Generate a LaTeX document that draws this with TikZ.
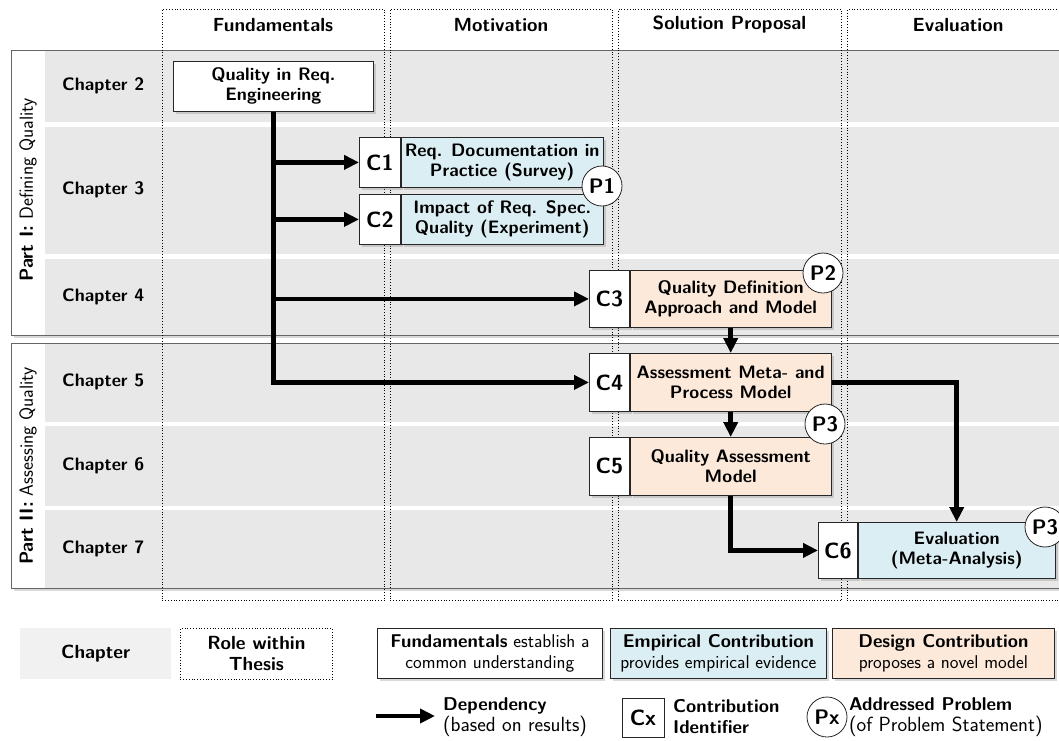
\documentclass[tikz,border=0pt]{standalone}
\usetikzlibrary{shadows,arrows.meta}
\definecolor{rowgray}{RGB}{232,232,232}
\definecolor{leggray}{RGB}{241,241,241}
\definecolor{empblue}{RGB}{219,238,244}
\definecolor{desorange}{RGB}{252,233,218}
\newcommand{\legnote}[1]{{\fontsize{20.5}{22}\selectfont #1}}
\begin{document}
\begin{tikzpicture}[x=1pt,y=-1pt,
  base/.style={font=\sffamily\bfseries\fontsize{18}{20}\selectfont, inner sep=0pt, align=center},
  headtext/.style={base, font=\sffamily\bfseries\fontsize{19}{21}\selectfont},
  legtext/.style={font=\sffamily\fontsize{18.5}{21}\selectfont, inner sep=0pt},
  parttext/.style={rotate=90, font=\sffamily\fontsize{19}{21}\selectfont, inner sep=0pt},
  partframe/.style={draw=black!60, line width=0.9pt},
  rolecol/.style={draw=black, dotted, line width=0.8pt},
  shade/.style={drop shadow={shadow xshift=2.5pt, shadow yshift=-2.5pt, opacity=0.3}},
  fundbox/.style={base, draw=black!85, line width=0.8pt, fill=white, shade, anchor=north west},
  idbox/.style={fundbox, font=\sffamily\bfseries\fontsize{22}{24}\selectfont},
  probcircle/.style={base, circle, draw=black!85, fill=white, line width=0.8pt,
    minimum size=40pt, font=\sffamily\bfseries\fontsize{21}{22}\selectfont},
  dep/.style={line width=4.5pt, -{Triangle[length=15pt,width=14pt]}},
]
\useasboundingbox (0,0) rectangle (1059,740);

% part frames with their shadows
\path[fill=white, shade] (11,50) rectangle (1075,335);
\path[fill=white, shade] (11,343) rectangle (1075,588);

% chapter rows
\fill[rowgray] (45,50) rectangle (1075,122);
\fill[rowgray] (45,127) rectangle (1075,254);
\fill[rowgray] (45,259) rectangle (1075,335);
\fill[rowgray] (45,343) rectangle (1075,422);
\fill[rowgray] (45,426) rectangle (1075,506);
\fill[rowgray] (45,510) rectangle (1075,588);

\draw[partframe] (11,50) rectangle (1075,335);
\draw[partframe] (11,343) rectangle (1075,588);

\node[parttext] (part1) at (28,190) {\textbf{Part I:} Defining Quality};
\node[parttext] (part2) at (28,466) {\textbf{Part II:} Assessing Quality};

\node[base, anchor=west] (ch2) at (62,86) {Chapter 2};
\node[base, anchor=west] (ch3) at (62,190) {Chapter 3};
\node[base, anchor=west] (ch4) at (62,297) {Chapter 4};
\node[base, anchor=west] (ch5) at (62,382) {Chapter 5};
\node[base, anchor=west] (ch6) at (62,466) {Chapter 6};
\node[base, anchor=west] (ch7) at (62,549) {Chapter 7};

% role columns
\node[rolecol, anchor=north west, minimum width=222pt, minimum height=591pt, inner sep=0pt] (colfund) at (162,9) {};
\node[rolecol, anchor=north west, minimum width=222pt, minimum height=591pt, inner sep=0pt] (colmot) at (390,9) {};
\node[rolecol, anchor=north west, minimum width=223pt, minimum height=591pt, inner sep=0pt] (colsol) at (618,9) {};
\node[rolecol, anchor=north west, minimum width=225pt, minimum height=591pt, inner sep=0pt] (coleval) at (847,9) {};

\node[headtext] (hfund) at (273,25) {Fundamentals};
\node[headtext] (hmot) at (501,25) {Motivation};
\node[headtext] (hsol) at (729.5,25) {Solution Proposal};
\node[headtext] (heval) at (958,25) {Evaluation};

% contributions
\node[fundbox, minimum width=200pt, minimum height=50pt] (q) at (173,61) {Quality in Req.\\Engineering};

\node[idbox, minimum width=41pt, minimum height=50pt] (c1id) at (359,137) {C1};
\node[fundbox, fill=empblue, minimum width=202pt, minimum height=50pt] (c1) at (c1id.north east) {Req. Documentation in\\Practice (Survey)};

\node[idbox, minimum width=41pt, minimum height=50pt] (c2id) at (359,194) {C2};
\node[fundbox, fill=empblue, minimum width=202pt, minimum height=50pt] (c2) at (c2id.north east) {Impact of Req. Spec.\\Quality (Experiment)};

\node[idbox, minimum width=40pt, minimum height=57pt] (c3id) at (589,270) {C3};
\node[fundbox, fill=desorange, minimum width=201pt, minimum height=57pt] (c3) at (c3id.north east) {Quality Definition\\Approach and Model};

\node[idbox, minimum width=40pt, minimum height=58pt] (c4id) at (589,353) {C4};
\node[fundbox, fill=desorange, minimum width=201pt, minimum height=58pt] (c4) at (c4id.north east) {Assessment Meta- and\\Process Model};

\node[idbox, minimum width=40pt, minimum height=58pt] (c5id) at (589,437) {C5};
\node[fundbox, fill=desorange, minimum width=201pt, minimum height=58pt] (c5) at (c5id.north east) {Quality Assessment\\Model};

\node[idbox, minimum width=39pt, minimum height=56pt] (c6id) at (818,522) {C6};
\node[fundbox, fill=empblue, minimum width=197pt, minimum height=56pt] (c6) at (c6id.north east) {Evaluation\\(Meta-Analysis)};

% dependencies
\draw[dep] (q.south) |- (c4id.west);
\draw[dep] (q.south |- c1id.west) -- (c1id.west);
\draw[dep] (q.south |- c2id.west) -- (c2id.west);
\draw[dep] (q.south |- c3id.west) -- (c3id.west);
\draw[dep] (c3.south) -- (c4.north);
\draw[dep] (c4.south) -- (c5.north);
\draw[dep] (c4.east) -| (c6.north);
\draw[dep] (c5.south) |- (c6id.west);

% addressed problems
\node[probcircle] (p1) at (602,186) {P1};
\node[probcircle] (p2) at (823,273) {P2};
\node[probcircle] (p3a) at (825,424) {P3};
\node[probcircle] (p3b) at (1045,527) {P3};

% legend
\node[headtext, fill=leggray, anchor=north west, minimum width=151pt, minimum height=51pt] (lchap) at (20,628) {Chapter};
\node[headtext, rolecol, anchor=north west, minimum width=152pt, minimum height=51pt] (lrole) at (180,628) {Role within\\Thesis};
\node[fundbox, legtext, align=center, minimum width=225pt, minimum height=50pt] (lfund) at (377,628) {\textbf{Fundamentals} establish a\\common understanding};
\node[fundbox, legtext, align=center, fill=empblue, minimum width=216pt, minimum height=50pt] (lemp) at (610,628) {\textbf{Empirical Contribution}\\provides empirical evidence};
\node[fundbox, legtext, align=center, fill=desorange, minimum width=222pt, minimum height=50pt] (ldes) at (832,628) {\textbf{Design Contribution}\\proposes a novel model};

\coordinate (la0) at (376,716);
\coordinate (la1) at (435,716);
\draw[dep] (la0) -- (la1);
\node[legtext, anchor=west, align=left] (ldep) at (443,717) {\textbf{Dependency}\\\legnote{(based on results)}};

\node[base, draw=black!85, line width=0.8pt, fill=white, minimum width=42pt, minimum height=39pt, font=\sffamily\bfseries\fontsize{22}{24}\selectfont] (lcx) at (643,718) {Cx};
\node[legtext, anchor=west, align=left] (lcxt) at (673,717) {\textbf{Contribution}\\\textbf{Identifier}};

\node[probcircle] (lpx) at (827,717) {Px};
\node[legtext, anchor=west, align=left] (lpxt) at (849,717) {\textbf{Addressed Problem}\\\legnote{(of Problem Statement)}};
\end{tikzpicture}
\end{document}
